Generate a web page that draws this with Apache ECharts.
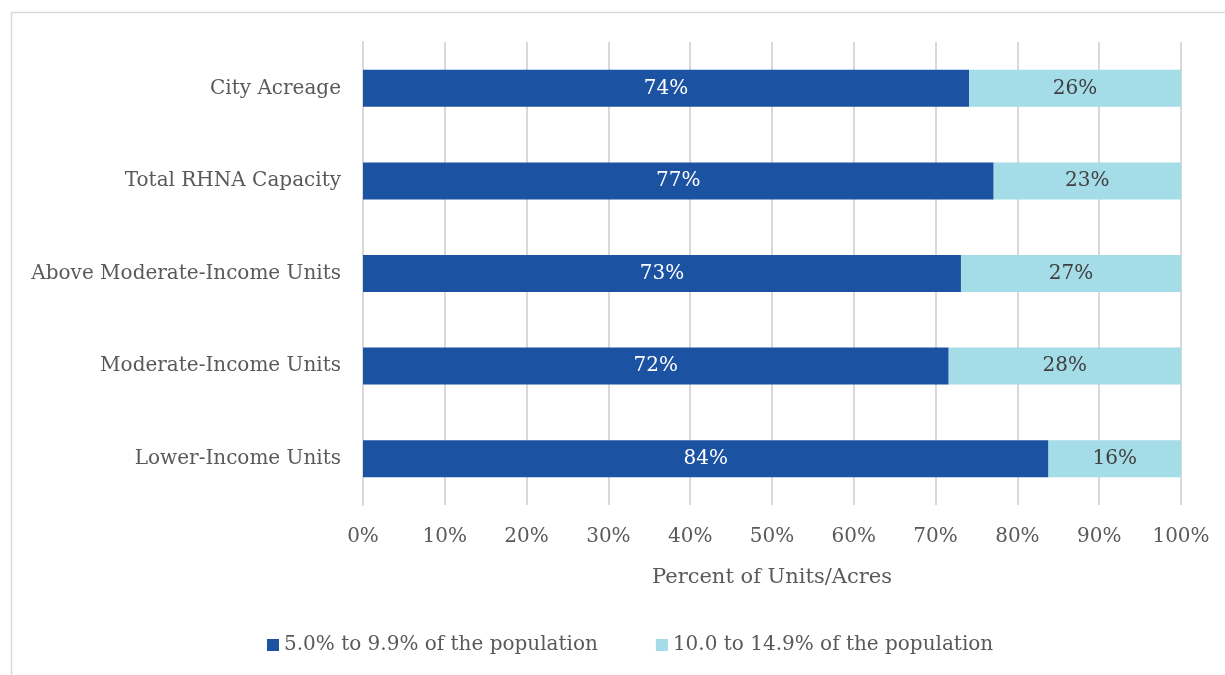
<!DOCTYPE html>
<html>
<head>
<meta charset="utf-8">
<script src="https://cdn.jsdelivr.net/npm/echarts@6/dist/echarts.min.js"></script>
<style>html,body{margin:0;padding:0;background:#fff;}#c{width:1225px;height:675px;}</style>
</head>
<body>
<div id="c"></div>
<script>
const categories = ["Lower-Income Units", "Moderate-Income Units", "Above Moderate-Income Units", "Total RHNA Capacity", "City Acreage"];
const seriesNames = ["5.0% to 9.9% of the population", "10.0 to 14.9% of the population"];
const lowShare = [83.8, 71.6, 73.1, 77.1, 74.1];
const highShare = [16.2, 28.4, 26.9, 22.9, 25.9];
const xTicks = [0, 10, 20, 30, 40, 50, 60, 70, 80, 90, 100];

const FONT = "DejaVu Serif";
const chart = echarts.init(document.getElementById('c'));
chart.setOption({
  backgroundColor: '#fff',
  animation: false,
  graphic: [
    { type: 'line', shape: { x1: 11, y1: 12.5, x2: 1225, y2: 12.5 }, style: { stroke: '#d9d9d9', lineWidth: 1.5 } },
    { type: 'line', shape: { x1: 11.5, y1: 12, x2: 11.5, y2: 675 }, style: { stroke: '#d9d9d9', lineWidth: 1.5 } }
  ],
  grid: { left: 363, right: 44, top: 42, bottom: 170, containLabel: false },
  legend: {
    bottom: 15,
    left: 262,
    itemGap: 58,
    itemWidth: 12,
    itemHeight: 12,
    icon: 'rect',
    textStyle: { fontFamily: FONT, fontSize: 20, color: '#595959' },
    data: seriesNames
  },
  xAxis: {
    type: 'value',
    min: 0, max: 100, interval: 10,
    name: 'Percent of Units/Acres',
    nameLocation: 'middle',
    nameGap: 62,
    nameTextStyle: { fontFamily: FONT, fontSize: 21, color: '#595959' },
    axisLine: { show: false },
    axisTick: { show: false },
    axisLabel: { fontFamily: FONT, fontSize: 20, color: '#595959', margin: 22,
      formatter: v => xTicks.includes(v) ? v + '%' : '' },
    splitLine: { show: true, lineStyle: { color: '#d9d9d9', width: 2 } }
  },
  yAxis: {
    type: 'category',
    data: categories,
    axisLine: { show: true, lineStyle: { color: '#d9d9d9', width: 2 } },
    axisTick: { show: false },
    axisLabel: { fontFamily: FONT, fontSize: 20, color: '#595959', margin: 22 }
  },
  series: [
    {
      name: seriesNames[0], type: 'bar', stack: 'total', data: lowShare,
      barWidth: 37,
      itemStyle: { color: '#1b52a2' },
      label: { show: true, position: 'inside', color: '#ffffff', fontFamily: FONT, fontSize: 20,
        formatter: p => Math.round(p.value) + '%' }
    },
    {
      name: seriesNames[1], type: 'bar', stack: 'total', data: highShare,
      barWidth: 37,
      itemStyle: { color: '#a4dce8' },
      label: { show: true, position: 'inside', color: '#404040', fontFamily: FONT, fontSize: 20,
        formatter: p => Math.round(p.value) + '%' }
    }
  ]
});
</script>
</body>
</html>
